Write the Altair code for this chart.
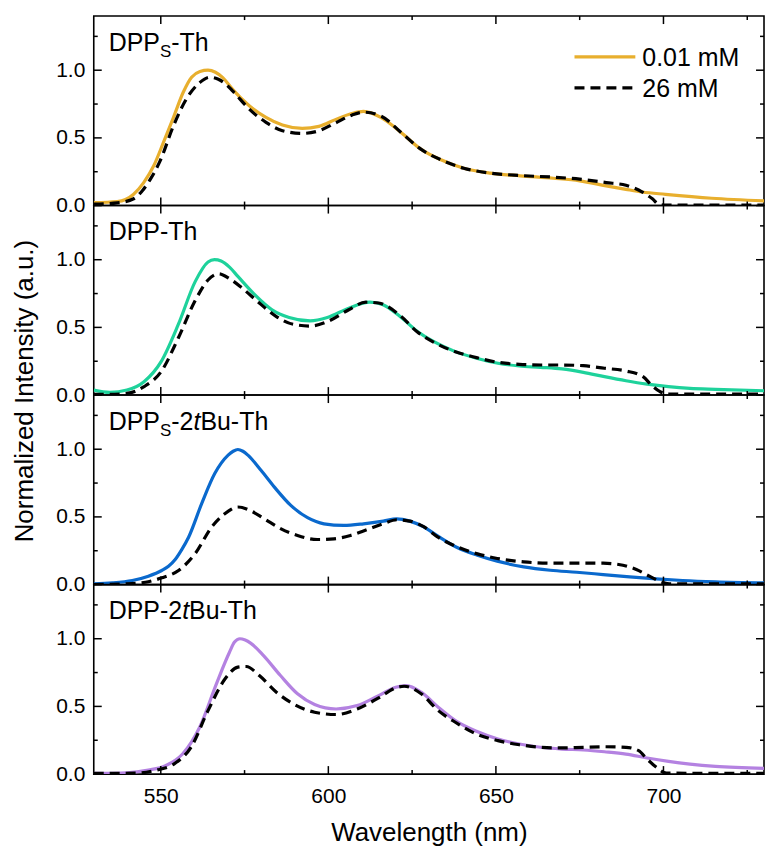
import altair as alt
import pandas as pd

FONT = "Liberation Sans"

# ---------------- data ----------------
x_domain = [530, 730]
y_domain = [0.0, 1.4]
x_major = [550, 600, 650, 700]
x_minor = [575, 625, 675, 725]
y_major = [0.0, 0.5, 1.0]
y_minor = [0.25, 0.75, 1.25]
legend_labels = ["0.01 mM", "26 mM"]
x_title = "Wavelength (nm)"
y_title = "Normalized Intensity (a.u.)"

colors = ["#E8AF2E", "#1ED29B", "#0A69CD", "#B482E1"]

# panel labels: (text, kind) kind: n normal, sub subscript, it italic
labels = [
    [("DPP", "n"), ("S", "sub"), ("-Th", "n")],
    [("DPP-Th", "n")],
    [("DPP", "n"), ("S", "sub"), ("-2", "n"), ("t", "it"), ("Bu-Th", "n")],
    [("DPP-2", "n"), ("t", "it"), ("Bu-Th", "n")],
]

# Panel 1: DPPS-Th
p1_sol_wl = [530, 537, 541.9, 544.9, 547.9, 550.8, 553.8, 556.7, 559.2, 561.7, 564.1, 566.3, 568.5,
             571.5, 576.4, 581.4, 586.3, 592.2, 597.2, 602.1, 607, 610.5, 615.8, 621.7, 627.6,
             633.6, 640.4, 648.3, 657.2, 667.1, 675, 682.9, 688.8, 693.7, 700.6, 714.4, 730]
p1_sol_v = [0.022, 0.03, 0.084, 0.17, 0.294, 0.467, 0.652, 0.837, 0.948, 0.99, 1.0, 0.985, 0.945,
            0.857, 0.738, 0.652, 0.595, 0.57, 0.585, 0.635, 0.68, 0.696, 0.65, 0.54, 0.417,
            0.338, 0.276, 0.24, 0.22, 0.202, 0.183, 0.146, 0.12, 0.10, 0.083, 0.054, 0.035]
p1_dash_wl = [530, 537, 541.9, 544.5, 546.9, 549.8, 553.8, 557.7, 561.7, 564.6, 567, 569.5, 571.5,
              576.4, 581.4, 586.3, 592.2, 597.2, 602.1, 607, 610.5, 615.8, 621.7, 627.6, 633.6,
              640.4, 648.3, 657.2, 667.1, 675, 682.9, 688.8, 693.7, 696.7, 698.6, 700.6, 714.4, 730]
p1_dash_v = [0.01, 0.02, 0.05, 0.11, 0.195, 0.33, 0.59, 0.79, 0.91, 0.948, 0.935, 0.895, 0.845,
             0.713, 0.615, 0.553, 0.533, 0.553, 0.61, 0.668, 0.69, 0.66, 0.54, 0.417, 0.338,
             0.276, 0.24, 0.222, 0.21, 0.195, 0.17, 0.15, 0.10, 0.05, 0.01, 0.004, 0.004, 0.004]

# Panel 2: DPP-Th
p2_sol_wl = [530, 534.8, 539.9, 545, 550.1, 555.2, 560.3, 564.1, 566, 568, 570.5, 573, 578.1, 583.2,
             588.3, 594.6, 599.7, 606.1, 612.4, 616.3, 621.4, 626.4, 631.5, 637.9, 644.2, 650.6,
             657, 663.3, 669.7, 676.1, 682.4, 688.8, 695.1, 701.5, 707.9, 715.5, 730]
p2_sol_v = [0.037, 0.02, 0.037, 0.099, 0.247, 0.52, 0.84, 0.983, 1.0, 0.99, 0.945, 0.877, 0.74, 0.63,
            0.573, 0.548, 0.573, 0.642, 0.686, 0.667, 0.58, 0.474, 0.395, 0.321, 0.272, 0.235,
            0.215, 0.205, 0.193, 0.168, 0.136, 0.106, 0.081, 0.062, 0.049, 0.042, 0.032]
p2_dash_wl = [530, 534.8, 539.9, 545, 550.1, 555.2, 560.3, 564.1, 567.3, 570.5, 574.3, 579.4,
              584.5, 589.5, 594.6, 599.7, 606.1, 611.2, 615, 621.4, 626.4, 631.5, 637.9, 644.2,
              650.6, 657, 663.3, 669.7, 676.1, 682.4, 688.8, 693.9, 696.4, 699, 700.9, 730]
p2_dash_v = [0.005, 0.005, 0.012, 0.062, 0.173, 0.42, 0.70, 0.85, 0.896, 0.86, 0.79, 0.68,
             0.58, 0.523, 0.51, 0.543, 0.63, 0.686, 0.68, 0.588, 0.47, 0.39, 0.32, 0.277,
             0.242, 0.227, 0.222, 0.222, 0.217, 0.198, 0.178, 0.136, 0.074, 0.025, 0.007, 0.007]

# Panel 3: DPPS-2tBu-Th
p3_sol_wl = [530, 535.6, 541.5, 546.3, 550.3, 552.3, 554.3, 556.3, 558.3, 562.2, 566.1, 570.1,
             571.6, 573, 574.5, 576, 579.9, 583.9, 588.8, 593.8, 598.7, 604.6, 610.5, 616.4,
             620.4, 624.3, 628.3, 632.7, 638.6, 644.5, 650.4, 658.3, 666.2, 674.1, 682, 689.9,
             697.8, 705.7, 715.5, 730]
p3_sol_v = [0.005, 0.012, 0.03, 0.062, 0.104, 0.135, 0.185, 0.26, 0.35, 0.598, 0.82, 0.956,
            0.985, 0.998, 0.985, 0.956, 0.844, 0.72, 0.585, 0.494, 0.449, 0.437, 0.449, 0.469,
            0.486, 0.469, 0.428, 0.358, 0.272, 0.217, 0.173, 0.131, 0.106, 0.091, 0.074, 0.057,
            0.042, 0.03, 0.02, 0.012]
p3_dash_wl = [530, 539.5, 545.4, 550.3, 555.3, 560.2, 565.2, 569.1, 573, 577, 580.9, 585.9, 590.8,
              596.7, 601.7, 606.6, 611.5, 616.4, 620.4, 624.3, 628.3, 632.7, 638.6, 644.5, 650.4,
              658.3, 666.2, 674.1, 682, 687.9, 691.9, 695.8, 698.8, 701.7, 730]
p3_dash_v = [0.0, 0.005, 0.017, 0.05, 0.104, 0.227, 0.425, 0.523, 0.573, 0.543, 0.486, 0.412, 0.363,
             0.333, 0.338, 0.363, 0.405, 0.449, 0.479, 0.469, 0.43, 0.35, 0.277, 0.227, 0.193,
             0.168, 0.158, 0.158, 0.158, 0.143, 0.111, 0.062, 0.025, 0.005, 0.005]

# Panel 4: DPP-2tBu-Th
p4_sol_wl = [530, 539.9, 546.3, 551.4, 556.5, 561.6, 566.6, 570.5, 572, 573.6, 575.2, 576.8, 580.6,
             585.7, 590.8, 595.9, 602.3, 608.6, 615, 620.1, 623.3, 627.7, 632.8, 637.9, 644.2,
             650.6, 657, 663.3, 669.7, 676.1, 682.4, 688.8, 695.1, 701.5, 707.9, 715.5, 730]
p4_sol_v = [0.005, 0.01, 0.03, 0.062, 0.148, 0.346, 0.667, 0.90, 0.975, 1.0, 0.99, 0.968, 0.877,
            0.728, 0.593, 0.514, 0.481, 0.506, 0.58, 0.642, 0.654, 0.605, 0.494, 0.395, 0.316,
            0.259, 0.222, 0.198, 0.185, 0.178, 0.165, 0.148, 0.119, 0.094, 0.074, 0.057, 0.042]
p4_dash_wl = [530, 542.5, 548.8, 553.9, 559, 564.1, 569.2, 573, 575.5, 579.4, 584.5, 589.5,
              595.9, 602.3, 608.6, 615, 620.1, 622.6, 627.7, 632.8, 637.9, 644.2, 650.6, 657,
              663.3, 669.7, 676.1, 682.4, 688.8, 692.6, 695.1, 697.7, 700.9, 730]
p4_dash_v = [0.005, 0.007, 0.03, 0.074, 0.198, 0.469, 0.704, 0.79, 0.795, 0.728, 0.605, 0.519,
             0.457, 0.44, 0.481, 0.563, 0.637, 0.649, 0.593, 0.469, 0.383, 0.296, 0.247, 0.217,
             0.198, 0.193, 0.198, 0.202, 0.198, 0.173, 0.111, 0.054, 0.007, 0.005]

panels_data = [
    (p1_sol_wl, p1_sol_v, p1_dash_wl, p1_dash_v),
    (p2_sol_wl, p2_sol_v, p2_dash_wl, p2_dash_v),
    (p3_sol_wl, p3_sol_v, p3_dash_wl, p3_dash_v),
    (p4_sol_wl, p4_sol_v, p4_dash_wl, p4_dash_v),
]

# ---------------- styling ----------------
W, H = 672, 190
MAJ, MIN = 8, 4
TICK_W = 1.5
LINE_W = 3.2
DASH = [10, 6]
LABEL_SIZE = 25
SUB_SIZE = 17
SUB_DROP = 6
TICK_LABEL_SIZE = 21
TITLE_SIZE = 26
LEGEND_SIZE = 25

ARIAL = {"D": .722, "P": .667, "S": .667, "-": .333, "T": .611, "h": .556,
         "2": .556, "t": .278, "B": .667, "u": .556}

one = pd.DataFrame({"a": [0]})
xs = alt.Scale(domain=x_domain, nice=False, zero=False)
ys = alt.Scale(domain=y_domain, nice=False, zero=False)


def make_axes(last):
    if last:
        xaxis = alt.Axis(values=x_major, ticks=False, tickSize=0, domain=False, grid=False,
                         labelFontSize=TICK_LABEL_SIZE, labelPadding=11, labelFlush=False,
                         title=x_title, titleFontSize=TITLE_SIZE, titleFontWeight="normal",
                         titlePadding=14, labelFont=FONT, titleFont=FONT, labelColor="black",
                         titleColor="black")
    else:
        xaxis = None
    yaxis = alt.Axis(values=y_major, format=".1f", ticks=False, tickSize=0, domain=False,
                     grid=False, labelFontSize=TICK_LABEL_SIZE, labelPadding=9,
                     labelFlush=False, labelOverlap=False, title=None, labelFont=FONT,
                     labelColor="black")
    return xaxis, yaxis


def tick_layers(xaxis, yaxis):
    out = []
    for vals, ln in ((x_major, MAJ), (x_minor, MIN)):
        d = pd.DataFrame({"wl": vals})
        base = alt.Chart(d).mark_rule(color="black", strokeWidth=TICK_W)
        out.append(base.encode(x=alt.X("wl:Q", scale=xs, axis=xaxis),
                               y=alt.value(H), y2=alt.value(H - ln)))
        out.append(base.encode(x=alt.X("wl:Q", scale=xs, axis=xaxis),
                               y=alt.value(0), y2=alt.value(ln)))
    for vals, ln in ((y_major, MAJ), (y_minor, MIN)):
        d = pd.DataFrame({"v": vals})
        base = alt.Chart(d).mark_rule(color="black", strokeWidth=TICK_W)
        out.append(base.encode(y=alt.Y("v:Q", scale=ys, axis=yaxis),
                               x=alt.value(0), x2=alt.value(ln)))
        out.append(base.encode(y=alt.Y("v:Q", scale=ys, axis=yaxis),
                               x=alt.value(W), x2=alt.value(W - ln)))
    return out


def label_layers(segs, x0=15, base_y=35):
    out = []
    x = x0
    for txt, kind in segs:
        size = SUB_SIZE if kind == "sub" else LABEL_SIZE
        dy = SUB_DROP if kind == "sub" else 0
        out.append(alt.Chart(one).mark_text(
            align="left", baseline="alphabetic", fontSize=size, font=FONT,
            fontStyle="italic" if kind == "it" else "normal", color="black"
        ).encode(text=alt.value(txt), x=alt.value(x), y=alt.value(base_y + dy)))
        x += sum(ARIAL[c] for c in txt) * size
    return out


def panel(i):
    swl, sv, dwl, dv = panels_data[i]
    xaxis, yaxis = make_axes(i == 3)
    sol = alt.Chart(pd.DataFrame({"wl": swl, "v": sv})).mark_line(
        color=colors[i], strokeWidth=LINE_W, interpolate="monotone", clip=True
    ).encode(x=alt.X("wl:Q", scale=xs, axis=xaxis), y=alt.Y("v:Q", scale=ys, axis=yaxis))
    dash = alt.Chart(pd.DataFrame({"wl": dwl, "v": dv})).mark_line(
        color="black", strokeWidth=LINE_W, strokeDash=DASH, interpolate="monotone", clip=True
    ).encode(x=alt.X("wl:Q", scale=xs, axis=xaxis), y=alt.Y("v:Q", scale=ys, axis=yaxis))
    layers = [sol, dash] + tick_layers(xaxis, yaxis) + label_layers(labels[i])
    if i == 0:
        ly = [41, 72]
        for k, lab in enumerate(legend_labels):
            kw = dict(color=colors[0] if k == 0 else "black", strokeWidth=LINE_W)
            if k == 1:
                kw["strokeDash"] = DASH
            layers.append(alt.Chart(one).mark_rule(**kw).encode(
                x=alt.value(482), x2=alt.value(543), y=alt.value(ly[k])))
            layers.append(alt.Chart(one).mark_text(
                align="left", baseline="alphabetic", fontSize=LEGEND_SIZE, font=FONT,
                color="black").encode(text=alt.value(lab), x=alt.value(550),
                                      y=alt.value(ly[k] + 9)))
    if i == 1:
        layers.append(alt.Chart(one).mark_text(
            angle=270, align="center", baseline="alphabetic", fontSize=TITLE_SIZE,
            font=FONT, color="black").encode(text=alt.value(y_title), x=alt.value(-61),
                                             y=alt.value(186)))
    return alt.layer(*layers).properties(width=W, height=H)


chart = alt.vconcat(*[panel(i) for i in range(4)], spacing=0, bounds="flush").resolve_scale(
    x="independent", y="independent").resolve_axis(x="independent", y="independent").properties(
    padding={"left": 11, "top": 13, "right": 0, "bottom": 0}
).configure(font=FONT, view=alt.ViewConfig(stroke="black", strokeWidth=1.6))

chart.save("out.html", embed_options={"renderer": "svg", "actions": False})
